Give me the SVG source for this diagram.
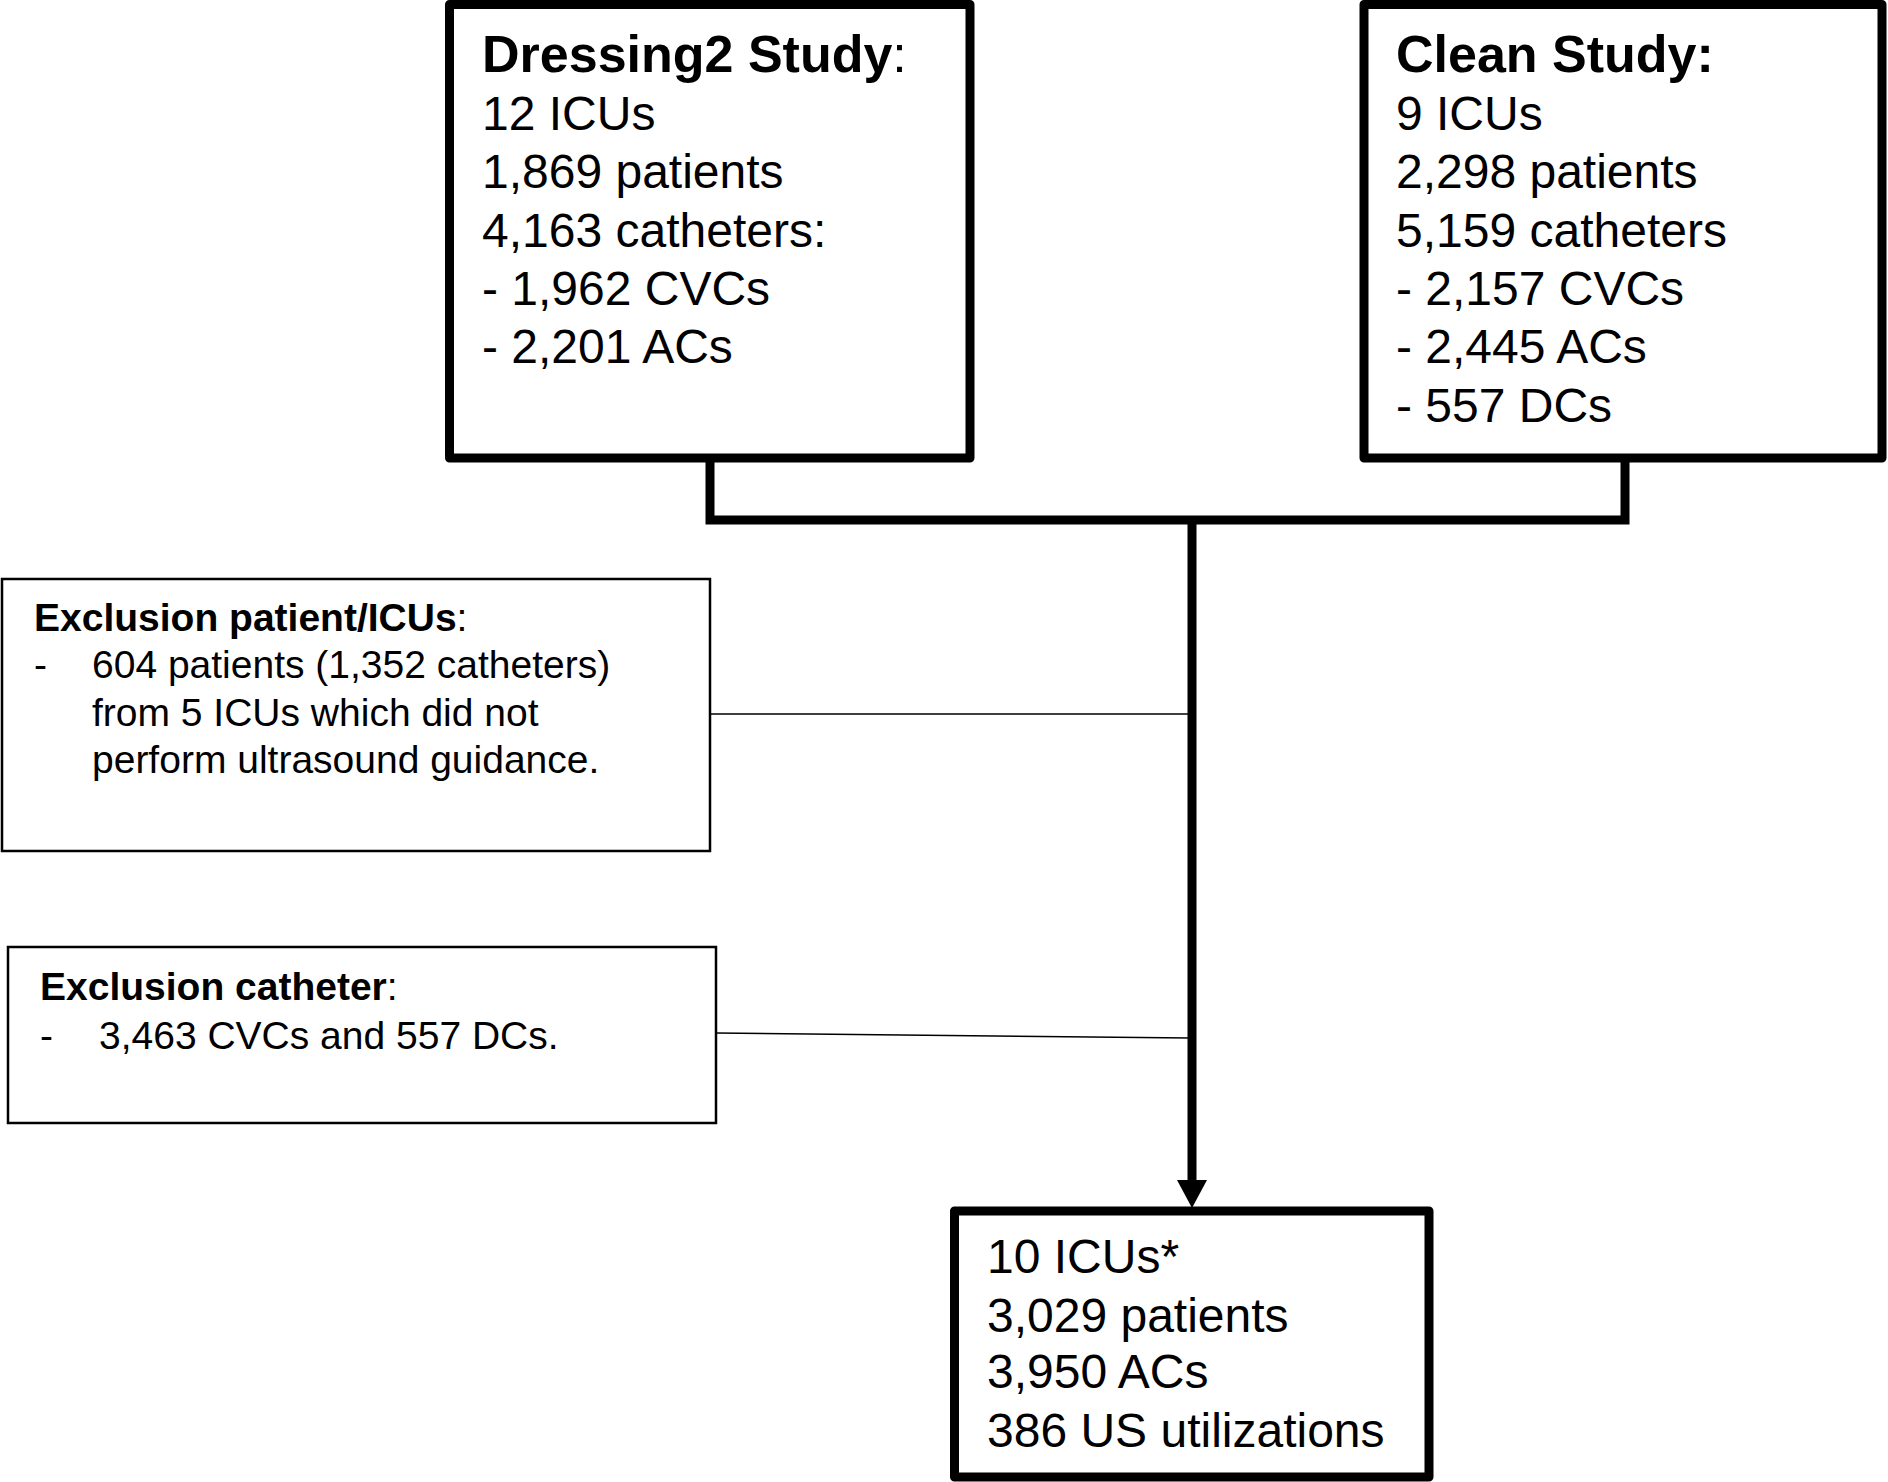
<svg xmlns="http://www.w3.org/2000/svg" width="1888" height="1482" viewBox="0 0 1888 1482">
<style>
text{font-family:"Liberation Sans",Arial,sans-serif;fill:#000}
.big{font-size:48px}
.tt{font-size:52px;font-weight:bold}
.sm{font-size:39px}
.b{font-weight:bold}
.nb{font-weight:normal}
.thick{fill:#fff;stroke:#000;stroke-width:9;stroke-linejoin:round}
.thin{fill:#fff;stroke:#000;stroke-width:2.5}
.conn{fill:none;stroke:#000;stroke-width:9;stroke-linejoin:miter}
.line{fill:none;stroke:#000;stroke-width:1.5}
</style>
<rect width="1888" height="1482" fill="#fff"/>
<g id="connectors">
<path class="conn" d="M710,458 V520 H1625 V458"/>
<path class="conn" d="M1192,520 V1182"/>
<path d="M1177,1180 L1207,1180 L1192,1208 Z" fill="#000"/>
<path class="line" d="M710,714 H1190"/>
<path class="line" d="M716,1033 L1190,1038"/>
</g>
<g id="dressing2">
<rect class="thick" x="449.5" y="4.5" width="520.5" height="453.5"/>
<text x="482" y="72" class="tt">Dressing2 Study<tspan class="nb">:</tspan></text>
<text x="482" y="130" class="big">12 ICUs</text>
<text x="482" y="188" class="big">1,869 patients</text>
<text x="482" y="247" class="big">4,163 catheters:</text>
<text x="482" y="305" class="big">- 1,962 CVCs</text>
<text x="482" y="363" class="big">- 2,201 ACs</text>
</g>
<g id="clean">
<rect class="thick" x="1364" y="4.5" width="518" height="453.5"/>
<text x="1396" y="72" class="tt">Clean Study:</text>
<text x="1396" y="130" class="big">9 ICUs</text>
<text x="1396" y="188" class="big">2,298 patients</text>
<text x="1396" y="247" class="big">5,159 catheters</text>
<text x="1396" y="305" class="big">- 2,157 CVCs</text>
<text x="1396" y="363" class="big">- 2,445 ACs</text>
<text x="1396" y="422" class="big">- 557 DCs</text>
</g>
<g id="exclusion1">
<rect class="thin" x="2" y="579" width="708" height="272"/>
<text x="34" y="631" class="sm"><tspan class="b">Exclusion patient/ICUs</tspan>:</text>
<text x="34" y="678" class="sm">-</text>
<text x="92" y="678" class="sm">604 patients (1,352 catheters)</text>
<text x="92" y="726" class="sm">from 5 ICUs which did not</text>
<text x="92" y="773" class="sm">perform ultrasound guidance.</text>
</g>
<g id="exclusion2">
<rect class="thin" x="8" y="947" width="708" height="176"/>
<text x="40" y="1000" class="sm"><tspan class="b">Exclusion catheter</tspan>:</text>
<text x="40" y="1049" class="sm">-</text>
<text x="99" y="1049" class="sm">3,463 CVCs and 557 DCs.</text>
</g>
<g id="result">
<rect class="thick" x="954.5" y="1211" width="474.5" height="266"/>
<text x="987" y="1273" class="big">10 ICUs*</text>
<text x="987" y="1332" class="big">3,029 patients</text>
<text x="987" y="1388" class="big">3,950 ACs</text>
<text x="987" y="1447" class="big">386 US utilizations</text>
</g>
</svg>
